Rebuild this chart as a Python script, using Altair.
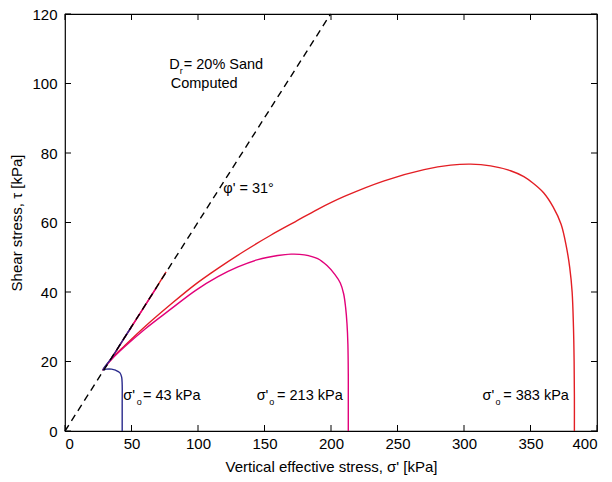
import altair as alt
import pandas as pd

# ---------------- data ----------------
x_ticks = [0, 50, 100, 150, 200, 250, 300, 350, 400]
y_ticks = [0, 20, 40, 60, 80, 100, 120]

# failure envelope phi' = 31 deg
fail_sigma = [0, 199.7]
fail_tau = [0, 120]

# stress path, sigma'o = 383 kPa
red_sigma = [383, 383, 382.8, 382.3, 381.3, 379.5, 377, 373, 367, 360, 352, 345, 335, 320,
             305, 290, 270, 240, 210, 190, 173, 155, 135, 115, 98, 80, 60, 45, 35, 28.5,
             35, 45, 55, 65, 76]
red_tau = [0, 10, 20, 30, 40, 47, 53, 59.5, 64.5, 68.5, 71.3, 73.2, 74.9, 76.3,
           76.8, 76.5, 75.2, 72, 67.5, 63.8, 60.2, 56.4, 51.8, 46.8, 42.2, 36.6, 30, 24.6, 20.8, 17.6,
           21, 27, 33, 39, 45.8]

# stress path, sigma'o = 213 kPa
mag_sigma = [213, 213, 213, 212.7, 212, 211, 209.5, 207, 203, 197, 190, 180, 170, 160,
             145, 130, 115, 98, 80, 60, 45, 35, 28.5, 35, 45, 55, 69]
mag_tau = [0, 10, 16, 25, 31, 35.5, 39.5, 42.6, 45, 47.6, 49.6, 50.7, 50.9, 50.5,
           49.3, 47.2, 44.4, 40.4, 35.2, 29.3, 24.3, 20.6, 17.6, 21, 27, 33, 41.4]

# stress path, sigma'o = 43 kPa
blue_sigma = [43, 43, 43, 42.6, 41.2, 38, 35, 31, 28.5, 35, 42, 50]
blue_tau = [0, 8, 13.3, 15.5, 16.8, 17.5, 17.8, 17.8, 17.6, 21, 25.2, 30]

# annotations (position in data units)
main_text = ["D", "= 20% Sand", "Computed", "\u03c6' = 31\u00b0",
             "\u03c3'", "= 43 kPa", "\u03c3'", "= 213 kPa", "\u03c3'", "= 383 kPa"]
main_sigma = [78.3, 89.3, 79.5, 119, 43.8, 58.6, 144.1, 159.4, 313.9, 329.5]
main_tau = [104.3, 104.3, 98.6, 68.4, 8.9, 8.9, 8.9, 8.9, 8.9, 8.9]

sub_text = ["r", "o", "o", "o"]
sub_sigma = [86.2, 53.9, 153.6, 323.7]
sub_tau = [104.3, 8.9, 8.9, 8.9]

W, H = 532, 417
FONT = "Liberation Sans"

xs = alt.Scale(domain=[0, 400], nice=False, zero=False)
ys = alt.Scale(domain=[0, 120], nice=False, zero=False)

x_axis = alt.Axis(values=x_ticks, grid=False, ticks=False, domain=False, labelPadding=5,
                  title="Vertical effective stress, \u03c3' [kPa]", titlePadding=8)
y_axis = alt.Axis(values=y_ticks, grid=False, ticks=False, domain=False, labelPadding=8,
                  title="Shear stress, \u03c4 [kPa]", titlePadding=7)


def path_df(s, t):
    return pd.DataFrame({"sigma": s, "tau": t, "order": list(range(len(s)))})


def line_layer(s, t, color, dash=None, interp="catmull-rom"):
    kw = dict(color=color, strokeWidth=1.4, interpolate=interp)
    if dash:
        kw["strokeDash"] = dash
    return alt.Chart(path_df(s, t)).mark_line(**kw).encode(
        x=alt.X("sigma:Q", scale=xs, axis=x_axis),
        y=alt.Y("tau:Q", scale=ys, axis=y_axis),
        order="order:Q",
    )


red = line_layer(red_sigma, red_tau, "#e31e24")
mag = line_layer(mag_sigma, mag_tau, "#e2007a")
blue = line_layer(blue_sigma, blue_tau, "#2a2a8c")
fail = line_layer(fail_sigma, fail_tau, "black", dash=[7, 5], interp="linear")

xt = pd.DataFrame({"v": x_ticks})
yt = pd.DataFrame({"v": y_ticks})
tick_len = 6
xb = alt.Chart(xt).mark_rule(color="black", strokeWidth=1).encode(
    x=alt.X("v:Q", scale=xs, axis=x_axis), y=alt.value(H), y2=alt.value(H - tick_len))
xtop = alt.Chart(xt).mark_rule(color="black", strokeWidth=1).encode(
    x=alt.X("v:Q", scale=xs, axis=x_axis), y=alt.value(0), y2=alt.value(tick_len))
yl = alt.Chart(yt).mark_rule(color="black", strokeWidth=1).encode(
    y=alt.Y("v:Q", scale=ys, axis=y_axis), x=alt.value(0), x2=alt.value(tick_len))
yr = alt.Chart(yt).mark_rule(color="black", strokeWidth=1).encode(
    y=alt.Y("v:Q", scale=ys, axis=y_axis), x=alt.value(W), x2=alt.value(W - tick_len))

ann_main = alt.Chart(pd.DataFrame({"t": main_text, "sigma": main_sigma, "tau": main_tau})).mark_text(
    align="left", baseline="alphabetic", fontSize=14.5, font=FONT, color="black").encode(
    x=alt.X("sigma:Q", scale=xs, axis=x_axis), y=alt.Y("tau:Q", scale=ys, axis=y_axis), text="t:N")
ann_sub = alt.Chart(pd.DataFrame({"t": sub_text, "sigma": sub_sigma, "tau": sub_tau})).mark_text(
    align="left", baseline="alphabetic", fontSize=9, font=FONT, color="black", dy=5).encode(
    x=alt.X("sigma:Q", scale=xs, axis=x_axis), y=alt.Y("tau:Q", scale=ys, axis=y_axis), text="t:N")

chart = alt.layer(red, mag, blue, fail, xb, xtop, yl, yr, ann_main, ann_sub).properties(
    width=W, height=H,
    padding={"left": 57, "top": 6, "right": 7, "bottom": 50},
    autosize=alt.AutoSizeParams(type="none"),
    background="white",
).configure_view(stroke="black", strokeWidth=1.2).configure_axis(
    labelFont=FONT, titleFont=FONT, labelFontSize=15, titleFontSize=15,
    titleFontWeight="normal", labelColor="black", titleColor="black",
)

chart.save("out.html", embed_options={"renderer": "svg", "actions": False})
